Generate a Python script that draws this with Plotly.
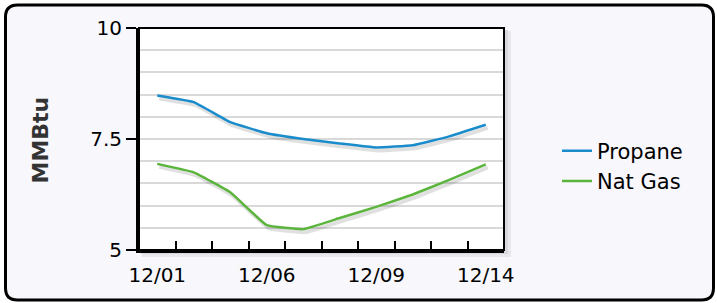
import plotly.graph_objects as go

categories = ["12/01", "12/02", "12/05", "12/06", "12/07", "12/08", "12/09", "12/12", "12/13", "12/14"]
propane = [8.48, 8.33, 7.88, 7.63, 7.50, 7.40, 7.31, 7.36, 7.56, 7.82]
nat_gas = [6.94, 6.75, 6.30, 5.56, 5.47, 5.72, 5.97, 6.25, 6.58, 6.93]
y_tick_vals = [5, 7.5, 10]
y_tick_text = ["5", "7.5", "10"]
label_every = 3

W, H = 717, 303
L, R, T, B = 139, 213, 28, 53
PW, PH = W - L - R, H - T - B

def px_x(p):
    return (p - L) / PW

def px_y(p):
    return (H - B - p) / PH

xs = list(range(len(categories)))
FONT = "DejaVu Sans"
BLUE = "#1b8ccb"
GREEN = "#5bb53d"
SMOOTH = 0.3

fig = go.Figure()

# soft shadows under the lines
dx = 2.0 / (PW / len(categories))
dy = 3.0 / (PH / 5.0)
for vals in (propane, nat_gas):
    fig.add_trace(go.Scatter(
        x=[v + dx for v in xs], y=[v - dy for v in vals], mode="lines",
        line=dict(color="rgba(0,0,0,0.12)", width=4, shape="spline", smoothing=SMOOTH),
        showlegend=False, hoverinfo="skip"))

fig.add_trace(go.Scatter(x=xs, y=propane, name="Propane", mode="lines",
                         line=dict(color=BLUE, width=2.5, shape="spline", smoothing=SMOOTH)))
fig.add_trace(go.Scatter(x=xs, y=nat_gas, name="Nat Gas", mode="lines",
                         line=dict(color=GREEN, width=2.5, shape="spline", smoothing=SMOOTH)))

# outer rounded frame
x0, x1 = px_x(5.5), px_x(713.5)
y0, y1 = px_y(300), px_y(5)
rx, ry = 12 / PW, 12 / PH
path = (f"M {x0+rx},{y1} L {x1-rx},{y1} Q {x1},{y1} {x1},{y1-ry} "
        f"L {x1},{y0+ry} Q {x1},{y0} {x1-rx},{y0} L {x0+rx},{y0} "
        f"Q {x0},{y0} {x0},{y0+ry} L {x0},{y1-ry} Q {x0},{y1} {x0+rx},{y1} Z")
shapes = [
    dict(type="path", xref="paper", yref="paper", path=path, layer="below",
         fillcolor="#f7f7fc", line=dict(color="black", width=3)),
    # plot-area shadow
    dict(type="rect", xref="paper", yref="paper", layer="below",
         x0=px_x(142), x1=px_x(511), y0=px_y(257), y1=px_y(31),
         fillcolor="#e8e8ec", line=dict(width=0)),
    dict(type="rect", xref="paper", yref="paper", layer="below",
         x0=px_x(141), x1=px_x(508), y0=px_y(254), y1=px_y(30),
         fillcolor="#d8d8dc", line=dict(width=0)),
    dict(type="rect", xref="paper", yref="paper", layer="below",
         x0=0, x1=1, y0=0, y1=1, fillcolor="white", line=dict(width=0)),
    # plot frame
    dict(type="rect", xref="paper", yref="paper", layer="above",
         x0=0, x1=1, y0=0, y1=1, line=dict(color="black", width=2)),
]

fig.update_layout(
    width=W, height=H,
    margin=dict(l=L, r=R, t=T, b=B, pad=0),
    paper_bgcolor="white",
    plot_bgcolor="rgba(0,0,0,0)",
    font=dict(family=FONT, size=20, color="black"),
    shapes=shapes,
    showlegend=True,
    legend=dict(x=px_x(557), y=px_y(166), xanchor="left", yanchor="middle",
                font=dict(family=FONT, size=21, color="black"),
                bgcolor="rgba(0,0,0,0)", tracegroupgap=0, itemwidth=30),
    annotations=[dict(text="<b>MMBtu</b>", xref="paper", yref="paper",
                      x=px_x(39.5), y=px_y(140), xanchor="center", yanchor="middle",
                      textangle=-90, showarrow=False,
                      font=dict(family=FONT, size=22, color="#333333"))],
)

fig.update_xaxes(
    range=[-0.5, len(categories) - 0.5],
    tickvals=xs[::label_every], ticktext=categories[::label_every],
    ticks="", showgrid=False, zeroline=False,
    showline=True, linecolor="black", linewidth=3,
    ticklabelstandoff=5,
    tickfont=dict(family=FONT, size=20, color="black"),
    minor=dict(tick0=-0.5, dtick=1, ticks="inside", ticklen=9,
               tickwidth=2, tickcolor="black", showgrid=False),
)
fig.update_yaxes(
    range=[5, 10], tickvals=y_tick_vals, ticktext=y_tick_text,
    ticks="outside", ticklen=10, tickwidth=2, tickcolor="black",
    showgrid=True, gridcolor="#d9d9d9", gridwidth=2, zeroline=False,
    showline=True, linecolor="black", linewidth=3,
    tickfont=dict(family=FONT, size=20, color="black"),
    minor=dict(tick0=5, dtick=0.5, showgrid=True, gridcolor="#d9d9d9",
               gridwidth=2, ticks=""),
)

fig.write_html("out.html", config={"displayModeBar": False},
               post_script="document.body.style.margin='0';document.body.style.overflow='hidden';")
